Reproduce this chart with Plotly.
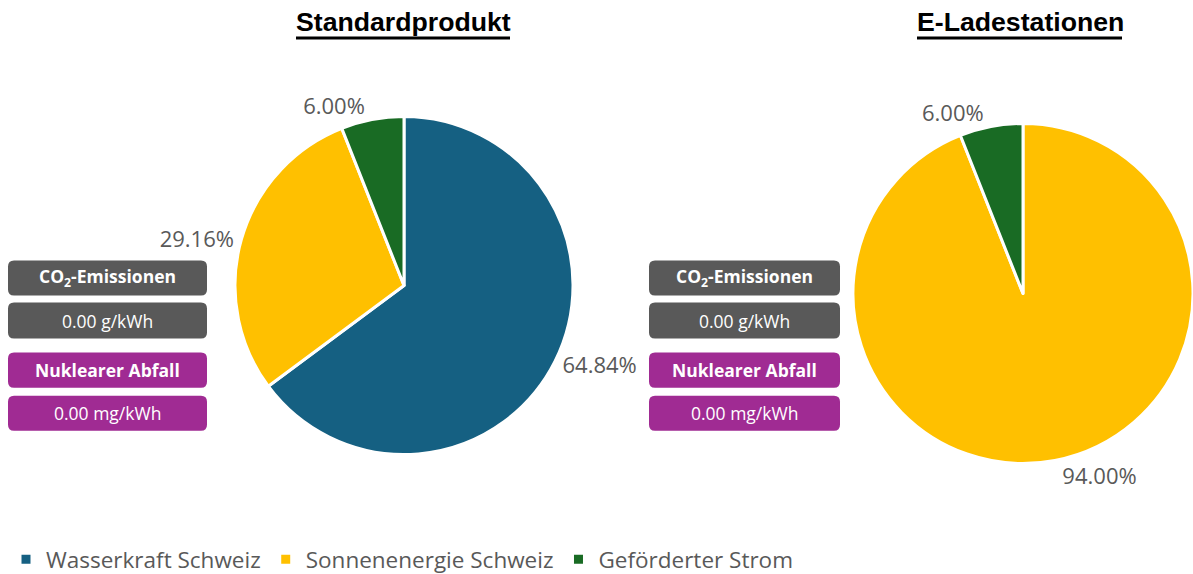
import plotly.graph_objects as go

categories = ["Wasserkraft Schweiz", "Sonnenenergie Schweiz", "Geförderter Strom"]
colors = ["#156082", "#FFC000", "#196B24"]
standard_values = [64.84, 29.16, 6.00]
lade_values = [0.0, 94.00, 6.00]
titles = ["Standardprodukt", "E-Ladestationen"]
box_headers = ["CO<sub>2</sub>-Emissionen", "Nuklearer Abfall"]
box_values = [["0.00 g/kWh", "0.00 mg/kWh"], ["0.00 g/kWh", "0.00 mg/kWh"]]

W, H = 1193, 574          # reference coordinate frame
FW, FH = 1199, 581        # figure size (compensates capture scaling)
GRAY = "#595959"
PURPLE = "#A02B93"
TXT = "#595959"

def px(x):
    return x / W

def py(y):
    return 1 - y / H

def nonzero(vals):
    keep = [i for i, v in enumerate(vals) if v > 0]
    return ([categories[i] for i in keep], [vals[i] for i in keep],
            [colors[i] for i in keep], [f"{vals[i]:.2f}%" for i in keep])

fig = go.Figure()
l1, v1, c1, t1 = nonzero(standard_values)
fig.add_trace(go.Pie(
    labels=l1, values=v1, sort=False, direction="clockwise",
    rotation=0, marker=dict(colors=c1, line=dict(color="white", width=3)),
    text=t1, textinfo="text", textposition="outside",
    textfont=dict(family="Open Sans", size=22, color=TXT),
    domain=dict(x=[px(235), px(573)], y=[py(454), py(116)]),
    hoverinfo="label+percent", showlegend=True,
))
l2, v2, c2, t2 = nonzero(lade_values)
fig.add_trace(go.Pie(
    labels=l2, values=v2, sort=False, direction="clockwise",
    rotation=0, marker=dict(colors=c2, line=dict(color="white", width=3)),
    text=t2, textinfo="text", textposition="outside",
    textfont=dict(family="Open Sans", size=22, color=TXT),
    domain=dict(x=[px(853), px(1193)], y=[py(463), py(123)]),
    hoverinfo="label+percent", showlegend=False,
))

shapes = []
annotations = []

def rrect(x0, y0, x1, y1, r, color):
    X0, X1 = px(x0), px(x1)
    rx, ry = r / W, r / H
    Y0, Y1 = py(y1), py(y0)
    path = (f"M {X0+rx},{Y0} L {X1-rx},{Y0} Q {X1},{Y0} {X1},{Y0+ry} "
            f"L {X1},{Y1-ry} Q {X1},{Y1} {X1-rx},{Y1} L {X0+rx},{Y1} "
            f"Q {X0},{Y1} {X0},{Y1-ry} L {X0},{Y0+ry} Q {X0},{Y0} {X0+rx},{Y0} Z")
    shapes.append(dict(type="path", path=path, xref="paper", yref="paper",
                       fillcolor=color, line=dict(width=0), layer="above"))

box_x = [(8, 207), (649, 840)]
rows = [(260, 295), (302, 338), (352, 387), (395, 430)]
for i, (bx0, bx1) in enumerate(box_x):
    for j, (y0, y1) in enumerate(rows):
        color = GRAY if j < 2 else PURPLE
        rrect(bx0, y0, bx1, y1, 6, color)
        if j % 2 == 0:
            txt = f"<b>{box_headers[j // 2]}</b>"
        else:
            txt = box_values[i][j // 2]
        annotations.append(dict(
            x=px((bx0 + bx1) / 2), y=py((y0 + y1) / 2), xref="paper", yref="paper",
            text=txt, showarrow=False, xanchor="center", yanchor="middle",
            font=dict(family="Open Sans", size=17.5, color="white"),
        ))

title_pos = [(403, 296, 510), (1020, 917, 1122)]
for t, (cx, ux0, ux1) in zip(titles, title_pos):
    annotations.append(dict(
        x=px(cx), y=py(22), xref="paper", yref="paper", text=f"<b>{t}</b>",
        showarrow=False, xanchor="center", yanchor="middle",
        font=dict(family="Liberation Sans", size=26.67, color="black"),
    ))
    shapes.append(dict(type="line", xref="paper", yref="paper",
                       x0=px(ux0), x1=px(ux1), y0=py(38), y1=py(38),
                       line=dict(color="black", width=3)))

fig.update_layout(
    width=FW, height=FH, margin=dict(l=0, r=0, t=0, b=0),
    paper_bgcolor="white", plot_bgcolor="white",
    shapes=shapes, annotations=annotations,
    legend=dict(orientation="h", x=px(6), y=py(559), xanchor="left", yanchor="middle",
                font=dict(family="Open Sans", size=22.5, color=TXT),
                itemwidth=30, tracegroupgap=0),
)

post = "document.body.style.margin='0';"
fig.write_html("out.html", post_script=post, config={"displayModeBar": False})
